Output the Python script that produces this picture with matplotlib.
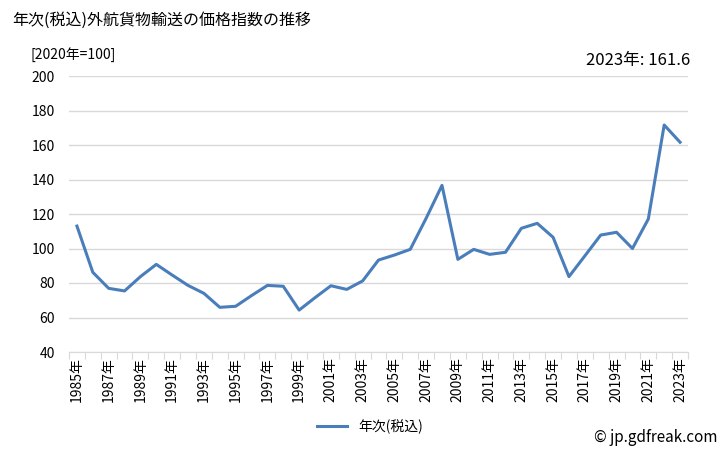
import numpy as np
import matplotlib
matplotlib.use('Agg')
from matplotlib import pyplot as plt

plt.rcParams['font.family'] = ['Noto Sans CJK JP', 'DejaVu Sans']

years = list(range(1985, 2024))
values = [113.0, 86.2, 76.9, 75.4, 83.7, 90.8, 84.6, 78.6, 74.0, 65.9,
          66.5, 72.7, 78.6, 78.1, 64.3, 71.5, 78.4, 76.3, 81.2, 93.3,
          96.2, 99.5, 117.5, 136.6, 93.7, 99.5, 96.6, 97.8, 111.7, 114.6,
          106.5, 83.7, 95.7, 107.8, 109.4, 100.0, 117.1, 171.6, 161.6]
tick_labels = [f'{y}年' for y in years]

fig = plt.figure(figsize=(7.28, 4.5), dpi=100)
ax = fig.add_axes([69 / 728, 1 - 352 / 450, (688 - 69) / 728, (352 - 76) / 450])

x = np.arange(len(years))
line, = ax.plot(x, values, color='#4a7ebb', linewidth=2.2, label='年次(税込)')

ax.set_xlim(-0.5, len(years) - 0.5)
ax.set_ylim(40, 200)
ax.set_yticks(range(40, 201, 20))
ax.yaxis.grid(True, color='#d9d9d9', linewidth=1)
ax.set_axisbelow(True)

# ticks between categories, labels at every other category
ax.set_xticks(np.arange(-0.5, len(years), 1))
ax.set_xticklabels([])
ax.set_xticks(x[::2], minor=True)
ax.set_xticklabels(tick_labels[::2], minor=True, rotation=90, fontsize=10)
ax.tick_params(axis='x', which='major', length=5, color='#d9d9d9', direction='out')
ax.tick_params(axis='x', which='minor', length=0, pad=4)
ax.tick_params(axis='y', length=0, labelsize=10, pad=10)

for s in ['top', 'right', 'left']:
    ax.spines[s].set_visible(False)
ax.spines['bottom'].set_color('#d9d9d9')

fig.text(12 / 728, 1 - 20 / 450, '年次(税込)外航貨物輸送の価格指数の推移', fontsize=11.5, va='center')
fig.text(30 / 728, 1 - 55 / 450, '[2020年=100]', fontsize=10, va='center')
fig.text(690 / 728, 1 - 60 / 450, f'2023年: {values[-1]}', fontsize=12, va='center', ha='right')
fig.text(718 / 728, 1 - 437 / 450, '© jp.gdfreak.com', fontsize=11, va='center', ha='right')

fig.legend(handles=[line], loc='center', bbox_to_anchor=(370 / 728, 1 - 427 / 450),
           frameon=False, fontsize=10, handlelength=2.2)

fig.savefig('out.png', dpi=100)
